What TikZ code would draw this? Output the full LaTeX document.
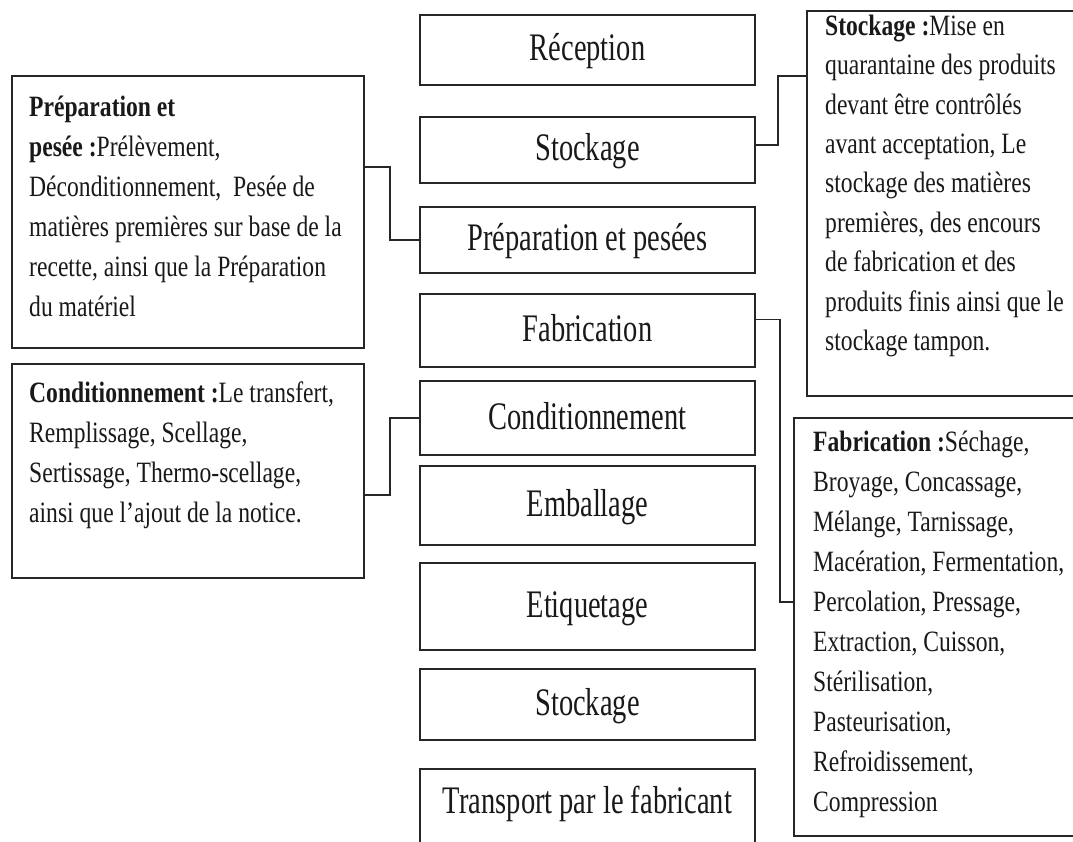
\documentclass[tikz,border=0pt]{standalone}
\usepackage{fontspec}
\setmainfont[FakeStretch=0.8]{Liberation Serif}
\newfontfamily\cfont[FakeStretch=0.73]{Liberation Serif}
\begin{document}
\begin{tikzpicture}[x=1pt,y=-1pt,
  box/.style={draw=black!85, line width=1.8pt},
  cbox/.style={box, minimum width=335pt, inner sep=0pt, text height=28pt, text depth=6pt,
    font=\cfont\fontsize{39}{44}\selectfont, text=black!90},
  sidebox/.style={box, anchor=north west, inner sep=0pt},
  side/.style={anchor=north west, inner sep=0pt, align=left, font=\fontsize{29.5}{40}\selectfont, text=black!90},
  conn/.style={draw=black!85, line width=1.6pt}]
\useasboundingbox (0,0) rectangle (1073,842);
\clip (0,0) rectangle (1073,842);
\fill[white] (0,0) rectangle (1073,842);

% centre column
\node[cbox, minimum height=70pt] (rec) at (587.5,50) {Réception};
\node[cbox, minimum height=66pt] (stk) at (587.5,150) {Stockage};
\node[cbox, minimum height=66pt] (prep) at (587.5,240) {Préparation et pesées};
\node[cbox, minimum height=73pt] (fab) at (587.5,330.5) {Fabrication};
\node[cbox, minimum height=74pt] (cond) at (587.5,418) {Conditionnement};
\node[cbox, minimum height=79pt] (emb) at (587.5,505.5) {Emballage};
\node[cbox, minimum height=87pt] (eti) at (587.5,606.5) {Etiquetage};
\node[cbox, minimum height=71pt] (stk2) at (587.5,704.5) {Stockage};
\draw[box] (420,769) rectangle (755,900);
\node[anchor=base, inner sep=0pt, font=\cfont\fontsize{39}{44}\selectfont, text=black!90] (tr) at (587.5,813) {Transport par le fabricant};

% side boxes
\node[sidebox, minimum width=352pt, minimum height=272pt] (lp) at (11,75) {};
\node[sidebox, minimum width=352pt, minimum height=214pt] (lc) at (11,363) {};
\node[sidebox, minimum width=400pt, minimum height=385pt] (rs) at (806,10) {};
\node[sidebox, minimum width=400pt, minimum height=418pt] (rf) at (793,417) {};

\node[side] (lpt) at (29,94) {\rule{0pt}{22pt}\textbf{Préparation et}\\
\textbf{pesée :}Prélèvement,\\
Déconditionnement,\ \ Pesée de\\
matières premières sur base de la\\
recette, ainsi que la Préparation\\
du matériel};

\node[side] (lct) at (29,380) {\rule{0pt}{22pt}\textbf{Conditionnement :}Le transfert,\\
Remplissage, Scellage,\\
Sertissage, Thermo-scellage,\\
ainsi que l’ajout de la notice.};

\node[side, font=\fontsize{29.5}{39.4}\selectfont] (rst) at (825,13) {\rule{0pt}{22pt}\textbf{Stockage :}Mise en\\
quarantaine des produits\\
devant être contrôlés\\
avant acceptation, Le\\
stockage des matières\\
premières, des encours\\
de fabrication et des\\
produits finis ainsi que le\\
stockage tampon.};

\node[side] (rft) at (813,429) {\rule{0pt}{22pt}\textbf{Fabrication :}Séchage,\\
Broyage, Concassage,\\
Mélange, Tarnissage,\\
Macération, Fermentation,\\
Percolation, Pressage,\\
Extraction, Cuisson,\\
Stérilisation,\\
Pasteurisation,\\
Refroidissement,\\
Compression};

% connectors
\coordinate (y167) at (0,167);
\coordinate (y495) at (0,495);
\coordinate (y76) at (0,76);
\coordinate (y602) at (0,602);
\draw[conn] (lp.east |- y167) -- ++(25,0) |- (prep.west);
\draw[conn] (lc.east |- y495) -- ++(25,0) |- (cond.west);
\draw[conn] ([yshift=5pt]stk.east) -- ++(22,0) |- (rs.west |- y76);
\draw[conn] ([yshift=11pt]fab.east) -- ++(24,0) |- (rf.west |- y602);
\end{tikzpicture}
\end{document}
